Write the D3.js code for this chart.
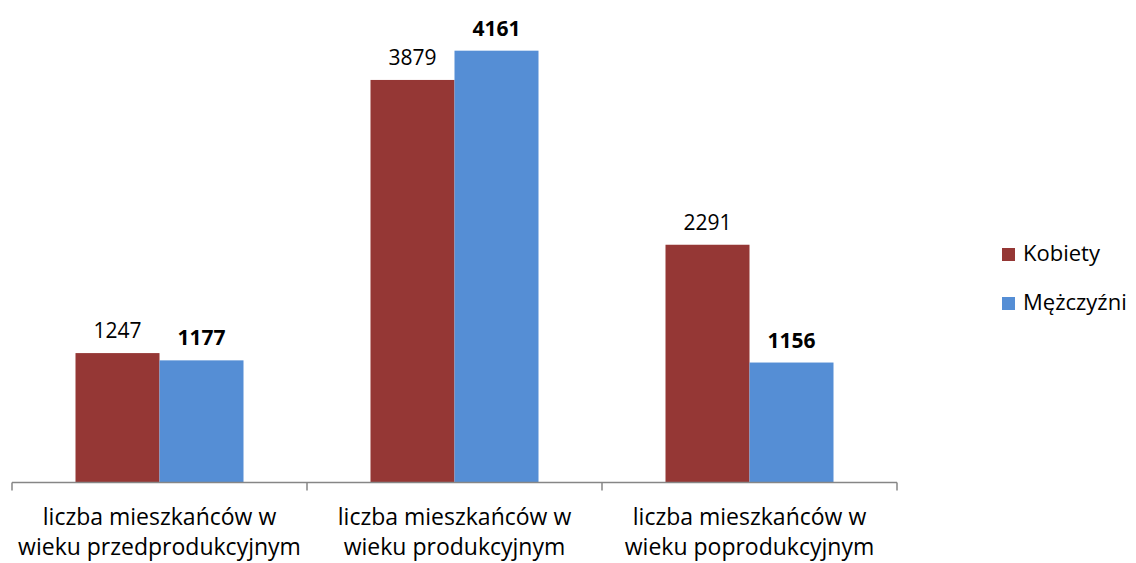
<!DOCTYPE html>
<html>
<head>
<meta charset="utf-8">
<script src="https://cdn.jsdelivr.net/npm/d3@7"></script>
<style>
  body { margin: 0; background: #fff; }
  svg { font-family: "Open Sans", Lato, sans-serif; }
</style>
</head>
<body>
<svg id="chart" width="1136" height="563"></svg>
<script>
// categories, each split into two lines like the original
const categories = [
  ["liczba mieszkańców w", "wieku przedprodukcyjnym"],
  ["liczba mieszkańców w", "wieku produkcyjnym"],
  ["liczba mieszkańców w", "wieku poprodukcyjnym"]
];
const seriesNames = ["Kobiety", "Mężczyźni"];
const kobiety = [1247, 3879, 2291];
const mezczyzni = [1177, 4161, 1156];
const colors = ["#953735", "#558ED5"];

const svg = d3.select("#chart");
const baseY = 482.5;

const x = d3.scaleBand()
  .domain(d3.range(categories.length))
  .range([12, 897])
  .paddingInner(0)
  .paddingOuter(0);

const y = d3.scaleLinear()
  .domain([0, 4500])
  .range([baseY, 15.5]);

const barW = 84;
const series = [kobiety, mezczyzni];

series.forEach((vals, s) => {
  const g = svg.append("g");
  g.selectAll("rect")
    .data(vals)
    .join("rect")
    .attr("x", (d, i) => x(i) + x.bandwidth() / 2 - barW + s * barW)
    .attr("y", d => y(d))
    .attr("width", barW)
    .attr("height", d => baseY - y(d))
    .attr("fill", colors[s]);

  // value labels, men in bold
  g.selectAll("text")
    .data(vals)
    .join("text")
    .attr("x", (d, i) => x(i) + x.bandwidth() / 2 - barW / 2 + s * barW)
    .attr("y", d => y(d) - 15)
    .attr("text-anchor", "middle")
    .style("font-size", "21px")
    .style("font-weight", s === 1 ? "bold" : "normal")
    .attr("fill", "#000")
    .text(d => d);
});

// axis line + ticks
const axis = svg.append("g").attr("stroke", "#868686").attr("stroke-width", 1.5);
axis.append("line")
  .attr("x1", 12).attr("x2", 897)
  .attr("y1", baseY).attr("y2", baseY);
const tickXs = d3.range(categories.length + 1).map(i => i < categories.length ? x(i) : x.range()[1]);
axis.selectAll("line.tick")
  .data(tickXs)
  .join("line")
  .classed("tick", true)
  .attr("x1", d => d).attr("x2", d => d)
  .attr("y1", baseY).attr("y2", baseY + 8);

// category labels
const lab = svg.append("g");
categories.forEach((lines, i) => {
  const t = lab.append("text")
    .attr("text-anchor", "middle")
    .style("font-size", "23px")
    .attr("fill", "#000");
  lines.forEach((ln, k) => {
    t.append("tspan")
      .attr("x", x(i) + x.bandwidth() / 2)
      .attr("y", 525 + k * 30)
      .text(ln);
  });
});

// legend
const leg = svg.append("g");
seriesNames.forEach((name, s) => {
  const ly = 248 + s * 49;
  leg.append("rect")
    .attr("x", 1002).attr("y", ly)
    .attr("width", 13).attr("height", 13)
    .attr("fill", colors[s]);
  leg.append("text")
    .attr("x", 1023).attr("y", ly + 13)
    .style("font-size", "22px")
    .attr("fill", "#000")
    .text(name);
});
</script>
</body>
</html>
